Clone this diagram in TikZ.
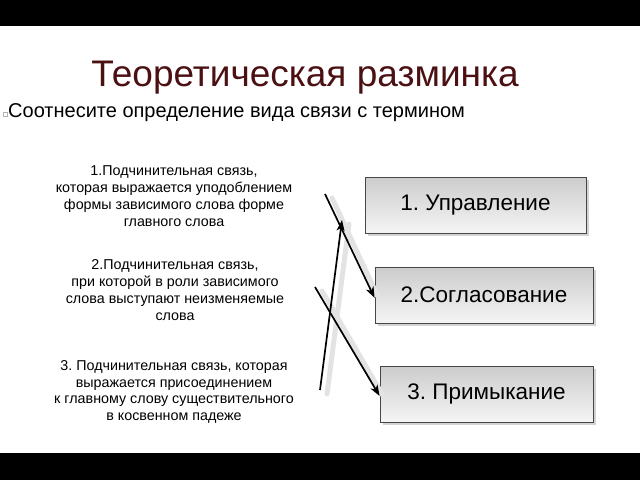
\documentclass[tikz,border=0pt]{standalone}
\usepackage{fontspec}
\setmainfont{Liberation Sans}
\usetikzlibrary{arrows.meta,shadows}
\definecolor{titlered}{RGB}{75,16,18}
\frenchspacing

\begin{document}
\begin{tikzpicture}[x=1pt,y=-1pt,
 every edge/.style = {draw=black,line width=1.7pt,
      -{Stealth[length=11pt,width=8pt,inset=3pt]}},
 shade edge/.style = {draw=gray!22,line width=5pt,line cap=round},
 defn/.style = {align=center,inner sep=0pt,
      font=\fontsize{14.3}{16.8}\selectfont},
 term/.style args = {#1/#2}{%
      rectangle, draw=gray!55!black, thick,
      top color=gray!40, bottom color=gray!8,
      drop shadow={opacity=0.35,shadow xshift=3pt,shadow yshift=-3pt},
      minimum width=#1, minimum height=#2,
      font=\fontsize{22.5}{26}\selectfont}
                    ]
\useasboundingbox (0,0) rectangle (640,480);
\fill[black] (0,0) rectangle (640,26);
\fill[black] (0,453) rectangle (640,480);
%
\node(title) [text=titlered,font=\fontsize{37}{42}\selectfont] at (305,78)
  {Теоретическая разминка};
\node(bullet) [draw=gray!60,minimum size=4pt,inner sep=0pt] at (5,114) {};
\node(task) [anchor=west,inner sep=0pt,font=\fontsize{20}{24}\selectfont]
  at (8,113) {Соотнесите определение вида связи с термином};
%
\node(def1) [defn] at (174,196) {1.Подчинительная связь,\\
  которая выражается уподоблением\\формы зависимого слова форме\\
  главного слова};
\node(def2) [defn] at (175,290) {2.Подчинительная связь,\\
  при которой в роли зависимого\\слова выступают неизменяемые\\слова};
\node(def3) [defn] at (174,392) {3. Подчинительная связь, которая\\
  выражается присоединением\\к главному слову существительного\\
  в косвенном падеже};
%
\node(term1) [term=221pt/56pt] at (475.5,205) {1. Управление};
\node(term2) [term=218pt/56pt] at (484,295) {2.Согласование};
\node(term3) [term=213pt/56pt] at (486.5,394) {3. Примыкание};
%
\coordinate(a1) at (325,194);
\coordinate(b1) at (320,390);
\coordinate(b2) at (342,220);
\coordinate(c1) at (315,287);
%
\draw[shade edge] ([shift={(7,4)}]a1) -- ([shift={(3,1)}]term2.west);
\draw[shade edge] ([shift={(7,4)}]b1) -- ([shift={(7,4)}]b2);
\draw[shade edge] ([shift={(7,4)}]c1) -- ([shift={(3,1)}]term3.west);
\path   (a1)  edge ([yshift=-3pt]term2.west);
\path   (b1)  edge (b2);
\path   (c1)  edge ([yshift=-2pt]term3.west);
\end{tikzpicture}
\end{document}
